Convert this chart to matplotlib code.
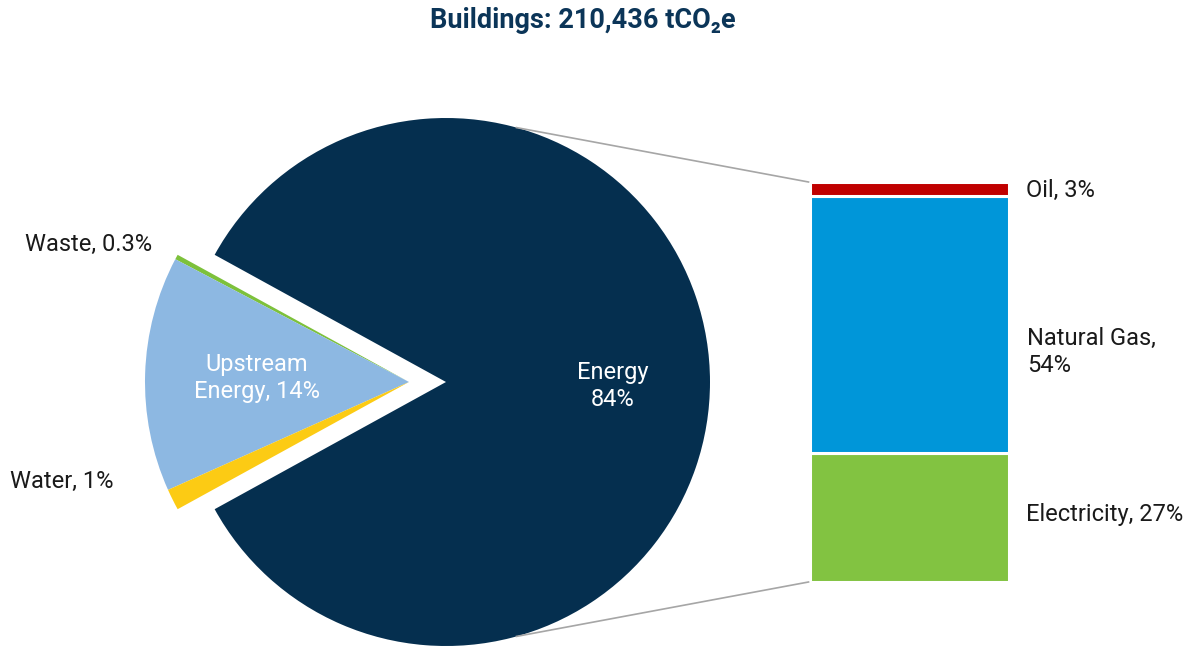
import numpy as np
import matplotlib
matplotlib.use("Agg")
import matplotlib.pyplot as plt

plt.rcParams['font.family'] = ['Roboto', 'DejaVu Sans']

# ---- data ----
title = "Buildings: 210,436 tCO\u2082e"
pie_labels = ["Energy", "Waste", "Upstream Energy", "Water"]
pie_values = [84.0, 0.3, 14.4, 1.3]
pie_colors = ["#052F4F", "#7DC13B", "#8DB8E2", "#FCCB14"]
pie_texts = ["Energy\n84%", "Waste, 0.3%", "Upstream\nEnergy, 14%", "Water, 1%"]

bar_labels = ["Electricity", "Natural Gas", "Oil"]
bar_values = [27, 54, 3]
bar_colors = ["#82C341", "#0096D9", "#C00000"]
bar_texts = ["Electricity, 27%", "Natural Gas,\n54%", "Oil, 3%"]

W, H = 1197, 647
fig = plt.figure(figsize=(W / 100, H / 100), dpi=100)
ax = fig.add_axes([0, 0, 1, 1])

cx, cy, R = 446, H - 382, 264
shift = 37

wedges, _ = ax.pie(pie_values, colors=pie_colors, startangle=-pie_values[0] / 100 * 180,
                   center=(cx, cy), radius=R, counterclock=True,
                   wedgeprops=dict(linewidth=0))
for w in wedges[1:]:
    w.set_center((cx - shift, cy))
ax.set_xlim(0, W)
ax.set_ylim(0, H)
ax.set_aspect('auto')
ax.axis('off')

tcol = "#1A1A1A"
fs = 17
# inner labels
ax.text(613, H - 386, pie_texts[0], color="white", fontsize=fs, ha='center', va='center', linespacing=1.22)
ax.text(257, H - 378, pie_texts[2], color="white", fontsize=fs, ha='center', va='center', linespacing=1.22)
# outer labels
ax.text(25, H - 244, pie_texts[1], color=tcol, fontsize=fs, ha='left', va='center')
ax.text(10, H - 481, pie_texts[3], color=tcol, fontsize=fs, ha='left', va='center')

# ---- bar of pie ----
bx0, bx1 = 809.5, 1008.5
by_top, by_bot = 182, 582
bax = fig.add_axes([bx0 / W, 1 - by_bot / H, (bx1 - bx0) / W, (by_bot - by_top) / H])
bottom = 0
for v, c in zip(bar_values, bar_colors):
    bax.bar(0, v, bottom=bottom, width=1, color=c, edgecolor='white', linewidth=2.2)
    bottom += v
bax.set_xlim(-0.5, 0.5)
bax.set_ylim(0, sum(bar_values))
bax.axis('off')

ax.text(1026, H - 514, bar_texts[0], color=tcol, fontsize=fs, ha='left', va='center')
ax.text(1027, H - 352, bar_texts[1], color=tcol, fontsize=fs, ha='left', va='center', linespacing=1.22)
ax.text(1026, H - 190, bar_texts[2], color=tcol, fontsize=fs, ha='left', va='center')

# connector lines from pie edge to bar corners
ang = np.deg2rad(74.5)
ax.plot([cx + R * np.cos(ang), bx0 - 1], [cy + R * np.sin(ang), H - by_top], color="#A6A6A6", lw=1.2)
ax.plot([cx + R * np.cos(-ang), bx0 - 1], [cy + R * np.sin(-ang), H - by_bot], color="#A6A6A6", lw=1.2)

fig.text(582.5 / W, 1 - 20 / H, title, color="#0B3558", fontsize=19.5, fontweight='bold',
         ha='center', va='center')

fig.savefig("out.png", dpi=100)
